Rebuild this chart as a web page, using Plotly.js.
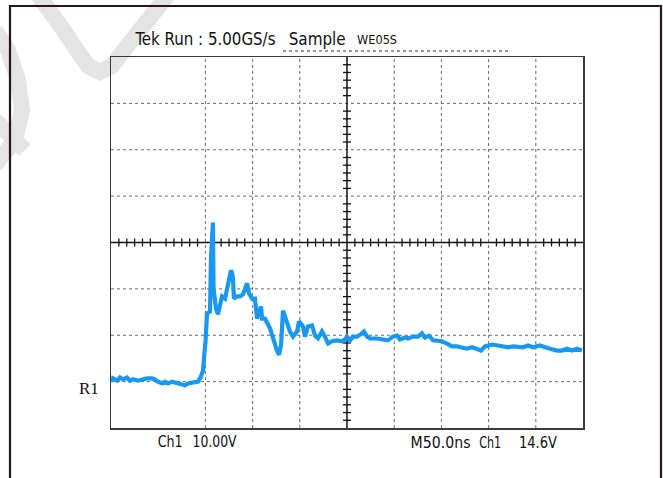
<!DOCTYPE html>
<html>
<head>
<meta charset="utf-8">
<script src="https://cdn.plot.ly/plotly-3.0.1.min.js"></script>
<style>
html,body{margin:0;padding:0;background:#fff;}
#chart{width:663px;height:478px;}
</style>
</head>
<body>
<div id="chart"></div>
<script>
// Time (ns, relative to screen centre) and voltage (V, relative to R1 ground)
const timeNs = [-249,-248,-243.6,-240.5,-237.3,-233.1,-229.9,-226.7,-221.4,-216.1,-211.9,-206.6,-203.4,-200.2,-195.9,-192.8,-189.6,-185.4,-182.2,-176.9,-171.6,-168.4,-163.1,-157.8,-154.7,-152.5,-151.5,-150.4,-149.8,-148.3,-145.1,-144.1,-143.0,-142.0,-141.4,-138.8,-136.7,-132.4,-129.2,-126.1,-122.9,-121.3,-120.8,-119.7,-116.5,-113.3,-110.2,-105.9,-103.8,-100.6,-97.5,-95.3,-94.3,-91.1,-90.0,-86.9,-81.6,-78.4,-74.2,-72.0,-69.9,-67.8,-64.6,-60.4,-57.2,-53.0,-50.8,-46.6,-44.5,-41.3,-37.1,-33.9,-30.7,-26.5,-23.3,-20.1,-15.9,-10.6,-5.3,-2.1,0,3.2,6.4,10.6,15.9,18.0,21.2,24.4,31.8,43.4,48.7,53.0,56.1,61.4,64.6,69.9,75.2,79.4,82.6,86.9,91.1,96.4,100.6,105.9,111.2,116.5,121.8,127.1,132.4,137.7,141.9,146.2,153.6,160.0,165.3,170.6,175.8,181.1,186.4,191.7,197.0,204.4,209.7,215.0,222.5,227.8,233.1,238.3,243.6,248.9];
const volts = [0.1,0.7,0.2,0.9,0.5,0.9,0.2,0.5,0.2,0.5,0.7,0.7,0.5,0.0,-0.4,0.0,-0.4,0.0,-0.2,-0.4,-0.8,-0.4,-0.2,0.0,1.1,2.4,5.0,7.1,8.9,14.7,15.1,26.5,33.5,34.3,20.1,15.8,14.5,18.4,17.9,20.7,24.0,23.1,22.2,17.9,18.4,18.4,18.8,21.2,19.0,17.9,17.9,13.6,14.3,16.2,13.6,13.6,11.5,9.3,6.7,5.8,7.8,15.3,13.0,10.8,9.7,10.8,13.0,11.9,9.7,11.9,12.1,9.9,9.3,10.8,9.7,8.2,8.7,8.9,8.7,9.1,9.7,8.9,9.7,9.7,10.4,10.8,9.7,9.3,9.3,8.9,9.7,9.9,9.1,9.5,9.3,9.7,9.7,10.4,9.5,9.9,8.9,8.7,8.7,8.2,7.6,7.6,7.4,7.1,7.4,6.9,6.7,7.6,8.0,7.8,7.6,7.4,7.6,7.6,7.4,7.8,7.4,7.8,7.4,7.1,6.7,6.7,7.1,6.7,7.1,6.7];

const timeRange = [-250, 250];   // 10 div x 50 ns
const voltRange = [-10, 70];     // 8 div x 10 V
const gridTimes = [-150, -100, -50, 50, 100, 150, 200];
const gridVolts = [0, 10, 20, 40, 50, 60];
const centreTime = 0, centreVolt = 30;

const W = 663, H = 478, L = 111, R = 583, T = 57, B = 428;
const px = x => (x - L) / (R - L);
const py = y => (B - y) / (B - T);

const shapes = [];
gridTimes.forEach(t => shapes.push({type:'line', xref:'x', yref:'y', x0:t, x1:t, y0:voltRange[0], y1:voltRange[1], line:{color:'#6a6a6a', width:1, dash:'dot'}, layer:'below'}));
gridVolts.forEach(v => shapes.push({type:'line', xref:'x', yref:'y', x0:timeRange[0], x1:timeRange[1], y0:v, y1:v, line:{color:'#6a6a6a', width:1, dash:'dot'}, layer:'below'}));
shapes.push({type:'line', xref:'x', yref:'y', x0:centreTime, x1:centreTime, y0:voltRange[0], y1:voltRange[1], line:{color:'#111', width:1.5}, layer:'below'});
shapes.push({type:'line', xref:'x', yref:'y', x0:timeRange[0], x1:timeRange[1], y0:centreVolt, y1:centreVolt, line:{color:'#111', width:1.5}, layer:'below'});
const tx = 4 * 500 / 472, ty = 4 * 80 / 371;
for (let d = -5; d < 5; d++) for (let j = 1; j <= 5; j++) {
  const t = d * 50 + j * 50 / 6;
  shapes.push({type:'line', xref:'x', yref:'y', x0:t, x1:t, y0:centreVolt - ty, y1:centreVolt + ty, line:{color:'#111', width:1.3}, layer:'below'});
}
for (let d = -1; d < 7; d++) for (let j = 1; j <= 5; j++) {
  const v = d * 10 + j * 10 / 6;
  shapes.push({type:'line', xref:'x', yref:'y', x0:-tx, x1:tx, y0:v, y1:v, line:{color:'#111', width:1.3}, layer:'below'});
}
shapes.push({type:'line', xref:'paper', yref:'paper', x0:px(283), x1:px(509), y0:py(51), y1:py(51), line:{color:'#333', width:1, dash:'dot'}});
shapes.push({type:'path', xref:'paper', yref:'paper', path:`M ${px(10)} ${py(480)} L ${px(10)} ${py(6)} L ${px(661)} ${py(6)} L ${px(661)} ${py(480)}`, line:{color:'#231815', width:2.2}});
const wm = (pts) => 'M ' + pts.map(p => px(p[0]) + ' ' + py(p[1])).join(' L ');
const wmStyle = {color:'#e4e4e4', width:16};
shapes.push({type:'path', xref:'paper', yref:'paper', layer:'below', path:wm([[38,-5],[60,25],[78,52],[88,66],[100,72],[112,66],[128,45],[148,20],[168,-5]]), line:wmStyle});
shapes.push({type:'path', xref:'paper', yref:'paper', layer:'below', path:wm([[-5,30],[8,50],[18,80],[22,110],[15,140],[-5,165]]), line:wmStyle});
shapes.push({type:'path', xref:'paper', yref:'paper', layer:'below', path:wm([[-5,120],[10,135],[25,150]]), line:wmStyle});

const sans = '"DejaVu Sans Condensed", "Open Sans", sans-serif';
const ann = (text, x, y, size, fam) => ({text, x:px(x), y:py(y), xref:'paper', yref:'paper', xanchor:'center', yanchor:'middle', showarrow:false, font:{family:fam || sans, size, color:'#111'}});
const annotations = [
  ann('Tek Run : 5.00GS/s', 205, 38, 18.5),
  ann('Sample', 316.5, 38, 18.5),
  ann('WE05S', 377, 40, 12),
  ann('Ch1', 170, 441, 16),
  ann('10.00V', 214, 441, 16),
  ann('M50.0ns', 440, 442, 16),
  ann('Ch1', 489.5, 442, 16),
  ann('14.6V', 538, 442, 16),
  ann('R1', 89, 388, 17, '"Liberation Serif", "DejaVu Serif", serif')
];
// target rendered widths (px) to mimic the condensed scope font
const textWidths = [140, 57, 40, 25, 44, 60, 22, 38, null];

const trace = {x: timeNs, y: volts, type:'scatter', mode:'lines', line:{color:'#1898f0', width:4.2}, hoverinfo:'skip'};

const axisBase = {showgrid:false, zeroline:false, showticklabels:false, ticks:'', showline:true, mirror:true, linecolor:'#3a3a3a', linewidth:1.5, fixedrange:true};
const layout = {
  width:W, height:H,
  margin:{l:L, r:W - R, t:T, b:H - B, pad:0},
  paper_bgcolor:'#ffffff', plot_bgcolor:'rgba(0,0,0,0)',
  showlegend:false,
  xaxis: Object.assign({range: timeRange}, axisBase),
  yaxis: Object.assign({range: voltRange}, axisBase),
  shapes, annotations
};
Plotly.newPlot('chart', [trace], layout, {displayModeBar:false, staticPlot:true}).then(gd => {
  const texts = gd.querySelectorAll('.annotation-text');
  texts.forEach((el, i) => {
    if (textWidths[i]) {
      el.setAttribute('textLength', textWidths[i]);
      el.setAttribute('lengthAdjust', 'spacingAndGlyphs');
    }
  });
});
</script>
</body>
</html>
